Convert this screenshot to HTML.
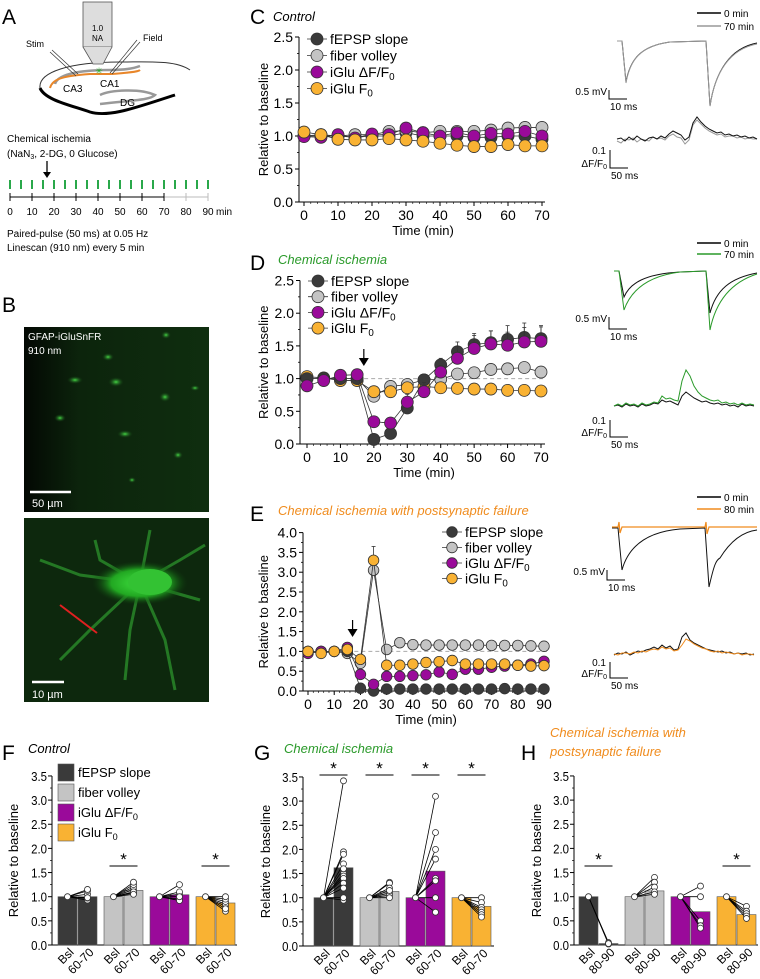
<!DOCTYPE html>
<html><head><meta charset="utf-8">
<style>
html,body{margin:0;padding:0;background:#fff;}
svg{display:block;font-family:"Liberation Sans",sans-serif;}
</style></head>
<body>
<svg id="fig" width="760" height="979" viewBox="0 0 760 979" xmlns="http://www.w3.org/2000/svg">
<defs>
 <radialGradient id="soma" cx="50%" cy="50%" r="50%"><stop offset="0" stop-color="#3fe03f"/><stop offset="0.6" stop-color="#22a822"/><stop offset="1" stop-color="#0d3a0d" stop-opacity="0"/></radialGradient>
 <radialGradient id="blob" cx="50%" cy="50%" r="50%"><stop offset="0" stop-color="#45d845"/><stop offset="1" stop-color="#103010" stop-opacity="0"/></radialGradient>
 <linearGradient id="bgtop" x1="0" x2="1" y1="0" y2="0"><stop offset="0" stop-color="#030803"/><stop offset="0.3" stop-color="#0c240c"/><stop offset="1" stop-color="#0f2e0f"/></linearGradient>
</defs>

<!-- Panel A -->
<g>
 <text x="2" y="24" font-size="21">A</text>
 <path d="M40,88 C38,72 70,62 120,62 C150,62 175,60 190,70" fill="none" stroke="#333" stroke-width="1"/>
 <path d="M40,88 C45,100 70,105 90,112 C110,118 140,106 175,95" fill="none" stroke="#000" stroke-width="3"/>
 <path d="M55,84 C58,72 90,70 110,70 C125,70 135,68 140,66" fill="none" stroke="#999" stroke-width="2.5"/>
 <path d="M50,88 C52,80 60,76 90,74 L112,74 C125,73 138,72 140,70" fill="none" stroke="#e8862a" stroke-width="2"/>
 <path d="M100,95 C110,90 140,88 155,95 C150,100 135,100 100,104" fill="none" stroke="#999" stroke-width="2.5"/>
 <text x="63" y="92" font-size="10">CA3</text>
 <text x="100" y="87" font-size="10">CA1</text>
 <text x="120" y="106" font-size="10">DG</text>
 <rect x="83" y="2" width="29" height="45" fill="#ddd" stroke="#555" stroke-width="0.8"/>
 <path d="M83,47 L93,64 L103,64 L112,47" fill="#ddd" stroke="#555" stroke-width="0.8"/>
 <text x="97.5" y="31" font-size="8" text-anchor="middle">1.0</text>
 <text x="97.5" y="41" font-size="8" text-anchor="middle">NA</text>
 <text x="99" y="74" font-size="9" fill="#2a2" text-anchor="middle">✳</text>
 <text x="26" y="47" font-size="9">Stim</text>
 <line x1="52" y1="50" x2="78" y2="74" stroke="#333" stroke-width="0.7"/><line x1="50" y1="52" x2="76" y2="76" stroke="#333" stroke-width="0.7"/>
 <text x="143" y="41" font-size="9">Field</text>
 <line x1="140" y1="42" x2="112" y2="74" stroke="#333" stroke-width="0.7"/><line x1="137" y1="40" x2="110" y2="73" stroke="#333" stroke-width="0.7"/>
 <text x="7" y="142" font-size="10">Chemical ischemia</text>
 <text x="7" y="157" font-size="10">(NaN<tspan font-size="7" dy="2">3</tspan><tspan dy="-2">, 2-DG, 0 Glucose)</tspan></text>
 <line x1="47" y1="161" x2="47" y2="173" stroke="#000" stroke-width="1.3"/><path d="M43,172 L51,172 L47,178Z"/>
 <g id="timeline"></g>
 <text x="7" y="237" font-size="10">Paired-pulse (50 ms) at 0.05 Hz</text>
 <text x="7" y="251" font-size="10">Linescan (910 nm) every 5 min</text>
</g>

<!-- Panel B -->
<g>
 <text x="2" y="312" font-size="21">B</text>
 <rect x="24" y="327" width="185" height="185" fill="url(#bgtop)"/>
 <g fill="url(#blob)">
  <ellipse cx="108" cy="357" rx="6" ry="4"/><ellipse cx="75" cy="380" rx="8" ry="4"/><ellipse cx="116" cy="382" rx="8" ry="5"/>
  <ellipse cx="165" cy="397" rx="6" ry="5"/><ellipse cx="60" cy="418" rx="6" ry="4"/><ellipse cx="125" cy="434" rx="8" ry="4"/>
  <ellipse cx="195" cy="388" rx="5" ry="3"/><ellipse cx="178" cy="455" rx="5" ry="4"/><ellipse cx="132" cy="480" rx="4" ry="3"/>
  <ellipse cx="166" cy="335" rx="5" ry="4"/>
 </g>
 <text x="28" y="340" font-size="10" fill="#fff">GFAP-iGluSnFR</text>
 <text x="28" y="354" font-size="10" fill="#fff">910 nm</text>
 <line x1="30" y1="492" x2="71" y2="492" stroke="#fff" stroke-width="2.5"/>
 <text x="32" y="507" font-size="11" fill="#fff">50 µm</text>
 <rect x="24" y="518" width="185" height="184" fill="#0d280d"/>
 <g stroke="#2a8c2a" stroke-width="3" fill="none" opacity="0.8">
  <path d="M140,583 L80,575 L40,560"/><path d="M140,583 L100,560 L95,540"/><path d="M140,583 L130,630 L125,680"/>
  <path d="M140,583 L180,560 L205,545"/><path d="M140,583 L200,600"/><path d="M140,583 L90,630 L60,660"/>
  <path d="M140,583 L165,640 L175,690"/><path d="M140,583 L150,530"/>
 </g>
 <ellipse cx="140" cy="583" rx="48" ry="22" fill="url(#soma)"/>
 <ellipse cx="150" cy="582" rx="22" ry="13" fill="#33c233"/>
 <line x1="60" y1="605" x2="97" y2="633" stroke="#e02020" stroke-width="2"/>
 <line x1="32" y1="682" x2="64" y2="682" stroke="#fff" stroke-width="2.5"/>
 <text x="32" y="698" font-size="11" fill="#fff">10 µm</text>
</g>

<!-- Panel labels / titles -->
<text x="250" y="24" font-size="21">C</text>
<text x="273" y="21" font-size="13" font-style="italic">Control</text>
<text x="250" y="270" font-size="21">D</text>
<text x="278" y="264" font-size="13" font-style="italic" fill="#2a9a2a">Chemical ischemia</text>
<text x="250" y="521" font-size="21">E</text>
<text x="278" y="515" font-size="13" font-style="italic" fill="#f08c1e">Chemical ischemia with postsynaptic failure</text>
<text x="2" y="760" font-size="21">F</text>
<text x="28" y="753" font-size="13" font-style="italic">Control</text>
<text x="254" y="760" font-size="21">G</text>
<text x="284" y="753" font-size="13" font-style="italic" fill="#2a9a2a">Chemical ischemia</text>
<text x="521" y="760" font-size="21">H</text>
<text x="550" y="737" font-size="13" font-style="italic" fill="#f08c1e">Chemical ischemia with</text>
<text x="550" y="756" font-size="13" font-style="italic" fill="#f08c1e">postsynaptic failure</text>

<g id="charts"></g>
<g id="traces"></g>
</svg>
<script>
// ---------- data ----------
const tC = [0,5,10,15,20,25,30,35,40,45,50,55,60,65,70];
const cEpsp  = [1.0,1.0,1.0,0.98,1.0,1.0,1.05,1.0,1.0,1.0,0.98,0.98,1.0,1.0,0.95];
const cFiber = [1.0,1.02,1.0,1.02,1.02,1.07,1.08,1.05,1.07,1.07,1.07,1.09,1.12,1.13,1.13];
const cDff   = [0.99,0.98,1.02,0.97,1.03,1.02,1.12,1.05,1.0,1.05,1.0,1.04,1.03,1.07,1.0];
const cF0    = [1.06,1.02,0.95,0.94,0.94,0.96,0.94,0.92,0.89,0.86,0.84,0.84,0.87,0.85,0.85];

const tD = [0,5,10,15,20,25,30,35,40,45,50,55,60,65,70];
const dEpsp  = [1.0,1.0,1.0,1.0,0.07,0.16,0.55,0.98,1.21,1.41,1.52,1.55,1.60,1.63,1.61];
const dEpspErr = [0,0,0,0,0.03,0.05,0.07,0.08,0.1,0.15,0.17,0.18,0.21,0.22,0.2];
const dFiber = [1.0,1.0,1.0,1.0,0.73,0.88,0.91,0.98,0.99,1.07,1.09,1.14,1.15,1.17,1.10];
const dDff   = [0.89,0.97,1.05,1.06,0.34,0.32,0.64,0.80,1.10,1.31,1.46,1.53,1.51,1.56,1.57];
const dDffErr = [0,0,0,0,0.04,0.04,0.12,0.14,0.1,0.18,0.2,0.2,0.2,0.22,0.22];
const dF0    = [1.03,1.01,0.97,0.97,0.80,0.80,0.86,0.88,0.86,0.85,0.84,0.84,0.82,0.82,0.81];

const tE = [0,5,10,15,20,25,30,35,40,45,50,55,60,65,70,75,80,85,90];
const eEpsp  = [1.0,1.0,1.0,1.0,0.07,0.0,0.05,0.05,0.05,0.05,0.05,0.05,0.05,0.05,0.05,0.06,0.05,0.05,0.05];
const eFiber = [1.0,1.0,1.0,0.95,0.70,3.05,1.05,1.22,1.17,1.16,1.16,1.16,1.16,1.16,1.15,1.15,1.15,1.14,1.13];
const eDff   = [0.95,1.0,1.0,1.1,0.42,0.17,0.37,0.37,0.39,0.41,0.48,0.42,0.55,0.55,0.60,0.63,0.65,0.68,0.75];
const eF0    = [1.0,0.95,1.0,1.05,0.8,3.3,0.65,0.65,0.68,0.72,0.74,0.77,0.68,0.68,0.68,0.68,0.65,0.63,0.64];
const eF0Err = [0,0,0,0,0,0.35,0,0,0,0,0,0,0,0,0,0,0,0,0];

const seriesNames = ["fEPSP slope","fiber volley","iGlu ΔF/F0","iGlu F0"];
const seriesColors = ["#3a3a3a","#c4c4c4","#9a0a9a","#f9b233"];

const fMeans = [1.0,1.0,1.0,1.13,1.0,1.04,1.0,0.87];
const gMeans = [1.0,1.62,1.0,1.13,1.0,1.55,1.0,0.82];
const hMeans = [1.0,0.03,1.0,1.12,1.0,0.69,1.0,0.63];
const fPts = [[0.93,0.97,1.05,1.12,1.15,0.98],[1.08,1.15,1.2,1.25,1.3,1.1,1.05],[0.95,1.05,1.1,1.25,0.92,1.0],[0.7,0.8,0.85,0.9,0.95,1.0,0.75]];
const gPts = [[3.42,1.95,1.9,1.7,1.5,1.45,1.4,1.3,1.2,0.95,1.0,1.6],[1.32,1.3,1.2,1.1,1.05,1.15,1.0],[3.1,2.35,2.0,1.8,1.4,1.35,1.0,0.7],[1.0,0.9,0.8,0.75,0.7,0.65,0.6]];
const hPts = [[0.05,0.02,0.03],[1.4,1.3,1.2,1.1,1.05],[1.22,1.0,0.5,0.4,0.35],[0.8,0.7,0.65,0.6,0.55]];
const fStars = [false,true,false,true];
const gStars = [true,true,true,true];
const hStars = [true,false,false,true];
const yTicksBar = [0,0.5,1.0,1.5,2.0,2.5,3.0,3.5];
const fLabels = ["Bsl","60-70"];
const hLabels = ["Bsl","80-90"];
const timelineTicks = [0,10,20,30,40,50,60,70,80,90];

// ---------- helpers ----------
const NS = "http://www.w3.org/2000/svg";
function mk(tag, attrs, parent){
  const e = document.createElementNS(NS, tag);
  for (const k in attrs) e.setAttribute(k, attrs[k]);
  parent.appendChild(e);
  return e;
}
const charts = document.getElementById("charts");
const traces = document.getElementById("traces");

// timeline in panel A
(function(){
  const g = document.getElementById("timeline");
  const tx = m => 10 + m * 2.2;
  const ax = mk("line",{x1:tx(0),y1:197,x2:tx(70),y2:197,stroke:"#000","stroke-width":1},g);
  
  
  mk("line",{x1:tx(70),y1:197,x2:tx(90),y2:197,stroke:"#bbb","stroke-width":1},g);
  for (let m=0;m<=90;m+=5){
    const tk = mk("line",{x1:tx(m),y1:180,x2:tx(m),y2:189,stroke:"#2aa84a","stroke-width":2},g);
    
    
  }
  timelineTicks.forEach(m=>{
    mk("line",{x1:tx(m),y1:193,x2:tx(m),y2:201,stroke:m>70?"#bbb":"#000","stroke-width":1},g);
    const t = mk("text",{x:tx(m),y:215,"font-size":10,"text-anchor":"middle"},g);
    t.textContent = m;
  });
  const mt = mk("text",{x:tx(90)+8,y:215,"font-size":10},g); mt.textContent="min";
})();

function subText(parent, x, y, size, name){
  const t = mk("text",{x:x,y:y,"font-size":size},parent);
  const m = name.match(/^(.*F)0$/);
  if (m){ t.textContent = m[1]; const s=mk("tspan",{"font-size":size*0.7,dy:3},t); s.textContent="0"; }
  else t.textContent = name;
  return t;
}

function lineChart(o){
  const g = mk("g",{},charts);
  
  
  const X = v => o.x0 + (v - o.xmin) / (o.xmax - o.xmin) * (o.x1 - o.x0);
  const Y = v => o.y0 - v * o.ppu;
  mk("line",{x1:o.ax,y1:o.y0,x2:o.axEnd,y2:o.y0,stroke:"#000","stroke-width":1},g);
  mk("line",{x1:o.ax,y1:o.y0,x2:o.ax,y2:Y(o.ymax),stroke:"#000","stroke-width":1},g);
  for (let v=0; v<=o.ymax+1e-6; v+=0.5){
    mk("line",{x1:o.ax-4,y1:Y(v),x2:o.ax,y2:Y(v),stroke:"#000","stroke-width":1},g);
    if (v+0.25<=o.ymax) mk("line",{x1:o.ax-2,y1:Y(v+0.25),x2:o.ax,y2:Y(v+0.25),stroke:"#000","stroke-width":0.8},g);
    const t = mk("text",{x:o.ax-6,y:Y(v)+5,"font-size":14,"text-anchor":"end"},g);
    t.textContent = v.toFixed(1);
  }
  for (let v=o.xmin; v<=o.xmax; v+=o.xstep){
    mk("line",{x1:X(v),y1:o.y0,x2:X(v),y2:o.y0+4,stroke:"#000","stroke-width":1},g);
    const t = mk("text",{x:X(v),y:o.y0+18,"font-size":14,"text-anchor":"middle"},g);
    t.textContent = v;
  }
  for (let v=o.xmin; v<=o.xmax; v+=o.xstep/5) mk("line",{x1:X(v),y1:o.y0,x2:X(v),y2:o.y0+2,stroke:"#000","stroke-width":0.6},g);
  const xl = mk("text",{x:(o.x0+o.x1)/2,y:o.y0+33,"font-size":13,"text-anchor":"middle"},g);
  xl.textContent = "Time (min)";
  
  
  const yl = mk("text",{x:0,y:0,"font-size":13,"text-anchor":"middle",transform:`translate(${o.ylx},${Y(o.ymax/2)}) rotate(-90)`},g);
  yl.textContent = "Relative to baseline";
  
  
  if (o.dashed) mk("line",{x1:X(15),y1:Y(1),x2:o.axEnd,y2:Y(1),stroke:"#aaa","stroke-width":1,"stroke-dasharray":"4,3"},g);
  if (o.arrowAt!==undefined){
    const ax = X(o.arrowAt);
    mk("line",{x1:ax,y1:o.arrowY,x2:ax,y2:o.arrowY+11,stroke:"#000","stroke-width":1.2},g);
    const ar = mk("path",{d:`M${ax-5},${o.arrowY+9} L${ax+5},${o.arrowY+9} L${ax},${o.arrowY+17}Z`},g);
    
    
  }
  o.series.forEach((s,i)=>{
    const sg = mk("g",{},g);
    
    
    const pts = s.vals.map((v,k)=>X(o.t[k])+","+Y(v)).join(" ");
    mk("polyline",{points:pts,fill:"none",stroke:"#333","stroke-width":0.8},sg);
    if (s.err) s.vals.forEach((v,k)=>{ if(s.err[k]>0){
      mk("line",{x1:X(o.t[k]),y1:Y(v),x2:X(o.t[k]),y2:Y(v+s.err[k]),stroke:"#333","stroke-width":0.8},sg);
      mk("line",{x1:X(o.t[k])-2,y1:Y(v+s.err[k]),x2:X(o.t[k])+2,y2:Y(v+s.err[k]),stroke:"#333","stroke-width":0.8},sg);}});
    s.vals.forEach((v,k)=>{
      const c = mk("circle",{cx:X(o.t[k]),cy:Y(v),r:o.r,fill:seriesColors[s.idx],stroke:"#333","stroke-width":0.8},sg);
      
      
    });
  });
  seriesNames.forEach((n,i)=>{
    const ly = o.legY + i*o.legDy;
    const lg = mk("g",{},g);
    
    
    mk("line",{x1:o.legX-10,y1:ly,x2:o.legX+10,y2:ly,stroke:"#333","stroke-width":0.8},lg);
    mk("circle",{cx:o.legX,cy:ly,r:o.r,fill:seriesColors[i],stroke:"#333","stroke-width":0.8},lg);
    subText(lg, o.legX+13, ly+5, 14, n);
  });
}

lineChart({name:"chart-c",t:tC,xmin:0,xmax:70,xstep:10,x0:304,x1:542,ax:299,axEnd:545,y0:202,ppu:66,ymax:2.5,ylx:268,r:6,
  legX:317,legY:39,legDy:16.5,
  series:[{idx:0,vals:cEpsp},{idx:1,vals:cFiber},{idx:2,vals:cDff},{idx:3,vals:cF0}]});
lineChart({name:"chart-d",t:tD,xmin:0,xmax:70,xstep:10,x0:307,x1:541,ax:300,axEnd:545,y0:444,ppu:65.4,ymax:2.5,ylx:268,r:6,
  legX:318,legY:281,legDy:15.7,dashed:true,arrowAt:17,arrowY:349,
  series:[{idx:1,vals:dFiber},{idx:3,vals:dF0},{idx:0,vals:dEpsp,err:dEpspErr},{idx:2,vals:dDff,err:dDffErr}]});
lineChart({name:"chart-e",t:tE,xmin:0,xmax:90,xstep:10,x0:308,x1:544,ax:303,axEnd:547,y0:691,ppu:39.6,ymax:4.0,ylx:268,r:5.3,
  legX:452,legY:532,legDy:15.5,dashed:true,arrowAt:17,arrowY:620,
  series:[{idx:1,vals:eFiber},{idx:0,vals:eEpsp},{idx:2,vals:eDff},{idx:3,vals:eF0,err:eF0Err}]});

// ---------- bar charts ----------
function barChart(o){
  const g = mk("g",{},charts);
  
  
  const Y = v => o.y0 - v * o.ppu;
  mk("line",{x1:o.ax,y1:o.y0,x2:o.axEnd,y2:o.y0,stroke:"#000","stroke-width":1},g);
  mk("line",{x1:o.ax,y1:o.y0,x2:o.ax,y2:Y(3.5),stroke:"#000","stroke-width":1},g);
  yTicksBar.forEach(v=>{
    mk("line",{x1:o.ax-4,y1:Y(v),x2:o.ax,y2:Y(v),stroke:"#000","stroke-width":1},g);
    if (v<3.5) mk("line",{x1:o.ax-2,y1:Y(v+0.25),x2:o.ax,y2:Y(v+0.25),stroke:"#000","stroke-width":0.7},g);
    const t = mk("text",{x:o.ax-5,y:Y(v)+5,"font-size":13,"text-anchor":"end",transform:`translate(${(o.ax-5)*0.12},0) scale(0.88,1)`},g);
    t.textContent = v.toFixed(1);
  });
  const yl = mk("text",{x:0,y:0,"font-size":13,"text-anchor":"middle",transform:`translate(${o.ylx},${Y(1.75)}) rotate(-90)`},g);
  yl.textContent = "Relative to baseline";
  
  
  const bw = 19;
  o.means.forEach((m,i)=>{
    const grp = Math.floor(i/2), sub = i%2;
    const bx = o.bx0 + grp*o.gstep + sub*(bw+1);
    const r = mk("rect",{x:bx,y:Math.min(Y(m),Y(0)),width:bw,height:Math.abs(Y(0)-Y(m)),fill:seriesColors[grp],stroke:"#555","stroke-width":0.6},g);
    
    
    const lab = mk("text",{x:0,y:0,"font-size":12,"text-anchor":"end",transform:`translate(${bx+bw/2+7},${o.y0+8}) rotate(-45)`},g);
    lab.textContent = o.labels[sub];
  });
  o.pts.forEach((arr,grp)=>{
    const xb = o.bx0 + grp*o.gstep + bw/2;
    const xa = xb + bw + 1;
    arr.forEach(v=>{
      mk("line",{x1:xb,y1:Y(1),x2:xa,y2:Y(v),stroke:"#000","stroke-width":0.8},g);
    });
    mk("circle",{cx:xb,cy:Y(1),r:3,fill:"#fff",stroke:"#333","stroke-width":0.8},g);
    arr.forEach(v=>{
      const c = mk("circle",{cx:xa,cy:Y(v),r:3,fill:"#fff",stroke:"#333","stroke-width":0.8},g);
      
      
    });
    if (o.stars[grp]){
      const yy = o.starY;
      mk("line",{x1:xb-4,y1:yy,x2:xa+4,y2:yy,stroke:"#000","stroke-width":1},g);
      const st = mk("text",{x:(xb+xa)/2,y:yy-1,"font-size":17,"text-anchor":"middle"},g);
      st.textContent = "*";
      
      
    }
  });
}
barChart({name:"chart-f",means:fMeans,pts:fPts,stars:fStars,labels:fLabels,ax:52,axEnd:237,y0:945,ppu:48.3,bx0:58,gstep:46,ylx:18,starY:866});
barChart({name:"chart-g",means:gMeans,pts:gPts,stars:gStars,labels:fLabels,ax:303,axEnd:494,y0:946,ppu:48.3,bx0:314,gstep:46,ylx:270,starY:775});
barChart({name:"chart-h",means:hMeans,pts:hPts,stars:hStars,labels:hLabels,ax:574,axEnd:758,y0:945,ppu:48.3,bx0:579,gstep:46,ylx:541,starY:866});

// legend F
(function(){
  seriesNames.forEach((n,i)=>{
    const ly = 772 + i*20;
    const lg = mk("g",{},charts);
    
    
    mk("rect",{x:58,y:ly-8,width:16,height:17,fill:seriesColors[i],stroke:"#555","stroke-width":0.6},lg);
    subText(lg, 78, ly+5, 13, n);
  });
})();

// ---------- example traces ----------
const cNoiseA = [0,1,-2,2,-1,3,0,-2,1,2,0,3,1,5,8,6,4,-1,2,16,22,17,13,10,8,6,7,4,5,3,4,2,3,1,2,0];
const cNoiseB = [-1,-3,1,0,2,-2,1,0,-1,3,1,2,0,4,6,3,2,-4,0,15,20,16,12,9,7,5,6,3,4,4,2,3,1,2,1,1];
const dNoiseA = [0,1,-1,2,0,1,-1,2,0,1,3,2,6,4,5,3,1,10,14,11,8,6,4,5,3,2,3,1,2,0,1,-1,2,0,1,0];
const dNoiseB = [0,2,0,3,1,2,0,3,1,2,4,3,10,7,8,6,5,25,36,30,20,14,10,8,6,5,6,3,4,2,3,1,3,1,2,1];
const eNoiseA = [0,2,1,3,0,2,4,3,5,6,8,6,10,7,9,5,6,18,22,15,12,10,8,6,5,4,3,4,2,3,1,2,1,2,0,1];
const eNoiseB = [1,0,2,2,1,3,2,4,3,5,6,5,8,6,7,4,5,10,16,14,11,9,7,6,4,3,4,2,3,2,1,2,0,1,1,0];

function trace(noise, x0, base, ppx, color, name){
  const pts = noise.map((v,k)=>(x0 + k*ppx) + "," + (base - v)).join(" ");
  const p = mk("polyline",{points:pts,fill:"none",stroke:color,"stroke-width":1},traces);
  
  
}
function tlegend(x, y, color, label){
  mk("line",{x1:x,y1:y,x2:x+24,y2:y,stroke:color,"stroke-width":1.5},traces);
  const t = mk("text",{x:x+27,y:y+4,"font-size":10},traces); t.textContent = label;
}
function scaleBars(x, y1, y2, lab1, lab2, dff){
  mk("polyline",{points:`${x},${y1} ${x},${y2} ${x+18},${y2}`,fill:"none",stroke:"#000","stroke-width":1},traces);
  if (dff){
    const a = mk("text",{x:x-4,y:y1+4,"font-size":10,"text-anchor":"end"},traces); a.textContent="0.1";
    const b = mk("text",{x:x-3,y:y2-1,"font-size":10,"text-anchor":"end"},traces); b.textContent="ΔF/F";
    const s = mk("tspan",{"font-size":7,dy:2},b); s.textContent="0";
  } else {
    const a = mk("text",{x:x-2,y:y1+5,"font-size":10,"text-anchor":"end"},traces); a.textContent=lab1;
  }
  const c = mk("text",{x:x+1,y:y2+11,"font-size":10},traces); c.textContent=lab2;
}
// C traces
tlegend(697,13,"#000","0 min"); tlegend(697,26,"#999","70 min");
mk("path",{d:"M617,41 L622,41 L626,82 C630,60 640,46 670,42 L706,41 L710,106 C715,72 730,48 757,43",fill:"none",stroke:"#111","stroke-width":1},traces);
const pc = mk("path",{d:"M617,41 L622,41 L626,83 C630,60 640,46 670,42 L706,41 L710,106 C715,72 730,49 757,44",fill:"none",stroke:"#999","stroke-width":1},traces);
 
scaleBars(609,90,99,"0.5 mV","10 ms",false);
trace(cNoiseB,617,140,4,"#999","trace-dff-c-70");
trace(cNoiseA,617,139,4,"#111","trace-dff-c-0");
scaleBars(610,150,168,"","50 ms",true);
// D traces
tlegend(697,243,"#000","0 min"); tlegend(697,254,"#2a9a2a","70 min");
mk("path",{d:"M614,271 L619,271 L624,297 C630,283 645,274 680,272 L706,271 L710,313 C716,290 730,278 757,273",fill:"none",stroke:"#111","stroke-width":1},traces);
const pd = mk("path",{d:"M614,271 L619,271 L624,310 C631,290 648,276 680,272 L706,271 L710,330 C716,300 732,282 757,274",fill:"none",stroke:"#2a9a2a","stroke-width":1},traces);
 
scaleBars(609,317,329,"0.5 mV","10 ms",false);
trace(dNoiseA,614,406,4,"#111","trace-dff-d-0");
trace(dNoiseB,614,406,4,"#2a9a2a","trace-dff-d-70");
scaleBars(610,420,437,"","50 ms",true);
// E traces
tlegend(697,497,"#000","0 min"); tlegend(697,509,"#f08c1e","80 min");
const pe = mk("path",{d:"M612,528 L618,528 L622,570 C628,548 645,532 680,529 L705,528 L709,587 C714,565 716,560 720,558 C728,545 740,532 757,530",fill:"none",stroke:"#111","stroke-width":1},traces);
 
mk("path",{d:"M612,527 L618,527 L619,522 L620,533 L622,527 L705,527 L706,522 L707,534 L709,527 L757,527",fill:"none",stroke:"#f08c1e","stroke-width":1.2},traces);
scaleBars(607,570,580,"0.5 mV","10 ms",false);
trace(eNoiseA,614,655,4,"#111","trace-dff-e-0");
trace(eNoiseB,614,655,4,"#f08c1e","trace-dff-e-80");
scaleBars(610,662,678,"","50 ms",true);
</script>
</body></html>
